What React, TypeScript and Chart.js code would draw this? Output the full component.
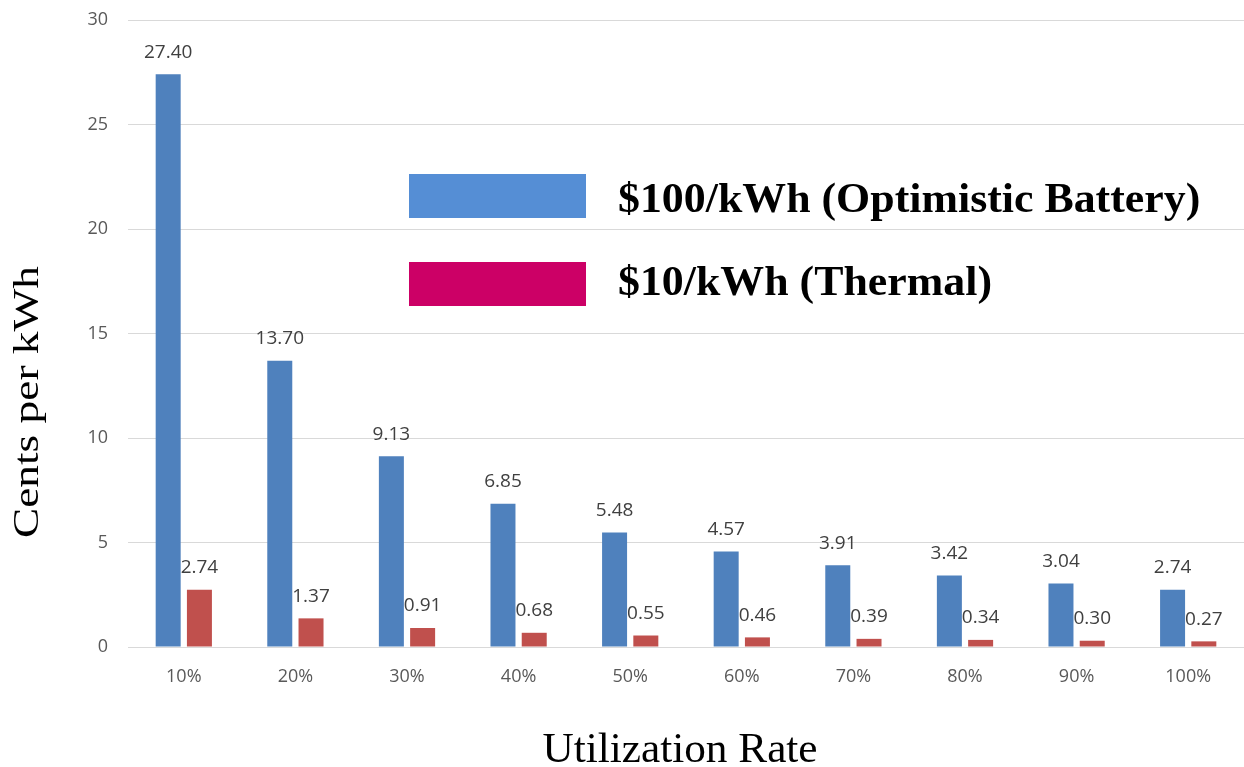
import React, { useEffect, useRef } from "react";
import { Chart, registerables } from "chart.js";

Chart.register(...registerables);

const categories = ["10%", "20%", "30%", "40%", "50%", "60%", "70%", "80%", "90%", "100%"];
const batteryValues = [27.4, 13.7, 9.13, 6.85, 5.48, 4.57, 3.91, 3.42, 3.04, 2.74];
const thermalValues = [2.74, 1.37, 0.91, 0.68, 0.55, 0.46, 0.39, 0.34, 0.3, 0.27];
const seriesNames = ["$100/kWh (Optimistic Battery)", "$10/kWh (Thermal)"];
const barColors = ["#4F81BD", "#C0504D"];
const legendColors = ["#558ED5", "#CC0066"];
const yTitle = "Cents per kWh";
const xTitle = "Utilization Rate";

function stretchText(ctx: any, text: string, x: number, y: number, stretch: number) {
  ctx.save();
  ctx.translate(x, y);
  ctx.scale(stretch, 1);
  ctx.fillText(text, 0, 0);
  ctx.restore();
}

const decorPlugin = {
  id: "decor",
  afterDatasetsDraw(chart: any) {
    const ctx = chart.ctx;
    ctx.save();
    // value labels
    ctx.font = "19px 'Open Sans', sans-serif";
    ctx.fillStyle = "#404040";
    ctx.textAlign = "center";
    ctx.textBaseline = "middle";
    chart.data.datasets.forEach((ds: any, di: number) => {
      const meta = chart.getDatasetMeta(di);
      meta.data.forEach((bar: any, i: number) => {
        const v = ds.data[i];
        ctx.fillText(v.toFixed(2), bar.x, bar.y - 22);
      });
    });
    // legend inside plot
    const items = [
      { y: 174, base: 212, color: legendColors[0], text: seriesNames[0] },
      { y: 262, base: 295, color: legendColors[1], text: seriesNames[1] },
    ];
    ctx.font = "bold 43px 'Liberation Serif', serif";
    ctx.textAlign = "left";
    ctx.textBaseline = "alphabetic";
    items.forEach((it) => {
      ctx.fillStyle = it.color;
      ctx.fillRect(409, it.y, 177, 44);
      ctx.fillStyle = "#000000";
      stretchText(ctx, it.text, 618, it.base, 1.02);
    });
    // axis titles
    ctx.font = "42px 'Liberation Serif', serif";
    ctx.fillStyle = "#000000";
    ctx.textAlign = "center";
    stretchText(ctx, xTitle, 680, 762, 1.03);
    ctx.font = "36px 'Liberation Serif', serif";
    ctx.textBaseline = "middle";
    ctx.translate(29, 402);
    ctx.rotate(-Math.PI / 2);
    ctx.scale(1.26, 1);
    ctx.fillText(yTitle, 0, 0);
    ctx.restore();
  },
};

export default function App() {
  const ref = useRef<HTMLCanvasElement>(null);
  useEffect(() => {
    document.body.style.margin = "0";
    const chart = new Chart(ref.current as HTMLCanvasElement, {
      type: "bar",
      data: {
        labels: categories,
        datasets: [
          { label: seriesNames[0], data: batteryValues, backgroundColor: barColors[0] },
          { label: seriesNames[1], data: thermalValues, backgroundColor: barColors[1] },
        ],
      },
      options: {
        animation: false,
        responsive: false,
        layout: { padding: { top: 20, right: 0, left: 0, bottom: 0 } },
        datasets: { bar: { categoryPercentage: 0.56, barPercentage: 0.8 } },
        plugins: { legend: { display: false }, tooltip: { enabled: false } },
        scales: {
          x: {
            grid: { display: false },
            border: { display: true, color: "#D9D9D9", width: 1 },
            ticks: {
              color: "#595959",
              font: { family: "'Open Sans', sans-serif", size: 18 },
              padding: 11,
            },
            afterFit(scale: any) {
              scale.height = 120;
              scale.paddingLeft = 0;
              scale.paddingRight = 0;
            },
          },
          y: {
            min: 0,
            max: 30,
            ticks: {
              stepSize: 5,
              color: "#595959",
              font: { family: "'Open Sans', sans-serif", size: 18 },
              padding: 20,
            },
            grid: { color: "#D9D9D9", drawTicks: false },
            border: { display: false },
            afterFit(scale: any) {
              scale.width = 128;
              scale.paddingTop = 0;
              scale.paddingBottom = 0;
            },
          },
        },
      },
      plugins: [decorPlugin],
    } as any);
    return () => chart.destroy();
  }, []);
  return <canvas ref={ref} width={1244} height={767} style={{ display: "block" }} />;
}
